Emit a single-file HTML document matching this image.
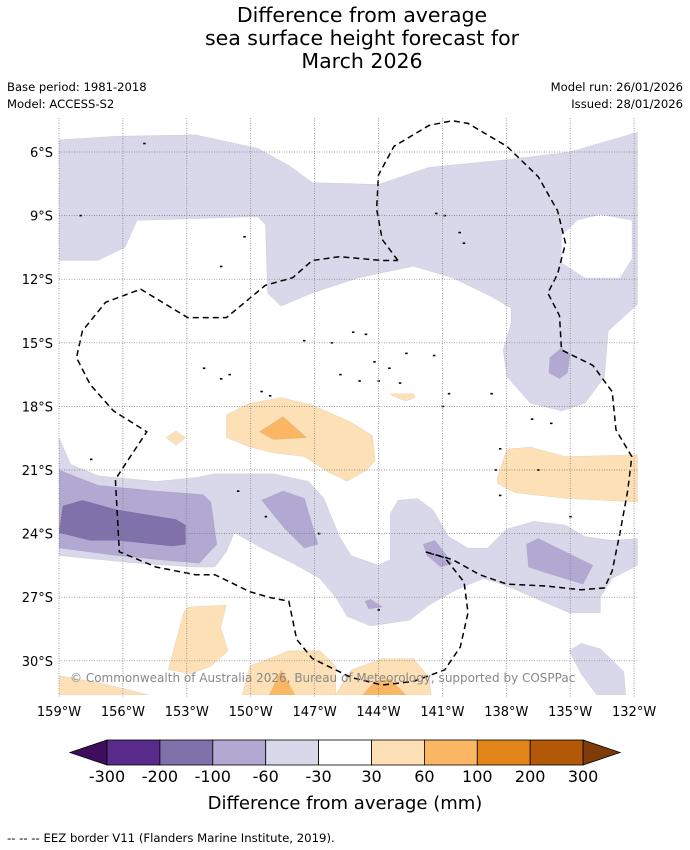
<!DOCTYPE html>
<html><head><meta charset="utf-8"><style>
body{margin:0;background:#fff;width:690px;height:850px;overflow:hidden;font-family:"Liberation Sans","DejaVu Sans",sans-serif}
svg{display:block}
</style></head><body>
<svg id="chart" width="690" height="850" viewBox="0 0 690 850" xmlns="http://www.w3.org/2000/svg" font-family="DejaVu Sans, Liberation Sans, sans-serif">
<text x="362" y="22" font-size="20.5" text-anchor="middle">Difference from average</text>
<text x="362" y="45" font-size="20.5" text-anchor="middle">sea surface height forecast for</text>
<text x="362" y="68" font-size="20.5" text-anchor="middle">March 2026</text>
<text x="7" y="91" font-size="11.6">Base period: 1981-2018</text>
<text x="7" y="108" font-size="11.6">Model: ACCESS-S2</text>
<text x="683" y="91" font-size="11.6" text-anchor="end">Model run: 26/01/2026</text>
<text x="683" y="108" font-size="11.6" text-anchor="end">Issued: 28/01/2026</text>
<defs><clipPath id="mc"><rect x="59" y="118" width="579" height="579"/></clipPath></defs>
<g id="map" clip-path="url(#mc)"></g>
<g id="grid"></g>
<text x="70" y="682" font-size="12" fill="#888">© Commonwealth of Australia 2026, Bureau of Meteorology, supported by COSPPac</text>
<g id="cbar"></g>
<text x="345" y="809" font-size="18" text-anchor="middle">Difference from average (mm)</text>
<text x="7" y="842" font-size="11.7">--  --  -- EEZ border V11 (Flanders Marine Institute, 2019).</text>
</svg>
<script>
const lonTicks=[-159,-156,-153,-150,-147,-144,-141,-138,-135,-132];
const latTicks=[6,9,12,15,18,21,24,27,30];
const cbarBounds=[-300,-200,-100,-60,-30,30,60,100,200,300];
const cbarColors=["#582a8a","#8071ab","#b1a9d2","#d9d8ea","#ffffff","#fde0b5","#fbb664","#e38419","#b35806"];
const cbarLow="#3f0d5c", cbarHigh="#7f3b08";
const C={lp:"#d9d8ea",mp:"#b1a9d2",dp:"#8071ab",lo:"#fde0b5",mo:"#fbb664"};
const topBand=[[-159,5.43],[-156.26,5.25],[-152.6,5.19],[-149.67,5.82],[-148.21,6.63],[-147.11,7.44],[-144,7.53],[-141.62,6.72],[-137.97,6.36],[-135.04,6],[-131.84,5.07],[-131.84,13.18],[-133.21,14.44],[-133.39,16.6],[-134.31,17.85],[-135.41,18.21],[-136.87,17.85],[-137.97,16.6],[-138.15,15.34],[-137.78,14.08],[-137.78,13.36],[-138.7,12.82],[-140.53,11.93],[-142.36,11.39],[-144.92,11.93],[-147.11,12.65],[-148.57,13.27],[-149.21,12.65],[-149.31,9.41],[-149.67,9.05],[-155.34,9.23],[-155.89,10.49],[-157.17,11.12],[-159,11.12]];
const topHole=[[-135.4,9.95],[-134.67,9.23],[-133.58,8.96],[-132.11,9.23],[-132.11,11.03],[-132.66,11.93],[-134.31,11.93],[-135.4,11.21]];
const medNE=[[-135.96,15.7],[-135.41,15.25],[-135,15.52],[-135.13,16.42],[-135.5,16.69],[-136,16.42]];
const bottomBand=[[-159,19.47],[-158.45,20.73],[-157.17,21.27],[-154.43,21.54],[-152.6,21.36],[-151.68,21.18],[-148.94,21.18],[-147.29,21.54],[-146.56,22.34],[-145.83,24.14],[-145.28,25.04],[-144,25.49],[-143.45,25.22],[-143.45,23.06],[-143.09,22.43],[-142.17,22.34],[-141.44,22.88],[-140.71,24.14],[-139.8,24.68],[-138.88,24.68],[-137.97,23.78],[-136.69,23.42],[-135.22,23.6],[-134.31,24.14],[-133.03,24.32],[-131.84,24.23],[-131.84,25.49],[-133.03,26.12],[-133.58,27.01],[-133.58,27.73],[-135.04,27.73],[-136.32,27.19],[-137.97,26.47],[-139.06,26.12],[-140.34,26.65],[-141.62,27.37],[-142.54,28.09],[-144.37,28.36],[-145.47,27.91],[-146.01,27.01],[-146.75,26.12],[-148.03,25.4],[-149.49,24.68],[-150.77,23.96],[-151.14,24.86],[-151.68,25.58],[-152.6,25.58],[-155.34,25.4],[-157.17,25.22],[-159,25.04]];
const medWest=[[-159,21],[-157.17,21.72],[-154.43,21.99],[-152.23,22.16],[-151.87,22.52],[-151.59,24.5],[-152.42,25.4],[-154.43,25.22],[-156.26,25.04],[-159,24.68]];
const darkWest=[[-158.82,22.7],[-157.9,22.43],[-156.26,22.88],[-153.51,23.33],[-153.06,23.6],[-153.06,24.5],[-153.7,24.59],[-156.26,24.32],[-157.54,24.32],[-159,23.96]];
const medCenter=[[-149.49,22.43],[-148.48,21.99],[-147.48,22.34],[-146.84,24.5],[-147.48,24.68],[-148.39,23.78]];
const medEast=[[-137.05,24.5],[-136.5,24.23],[-133.94,25.49],[-134.4,26.38],[-136.14,25.85],[-136.96,25.58]];
const medSmall=[[-141.9,24.5],[-141.35,24.32],[-140.53,25.4],[-141.08,25.58],[-141.72,25.04]];
const medTiny=[[-144.64,27.19],[-144.37,27.1],[-143.82,27.46],[-144.46,27.55]];
const lavSE=[[-135.04,29.53],[-134.49,29.17],[-133.58,29.44],[-132.48,30.52],[-132.39,31.6],[-133.76,31.6],[-134.49,30.61]];
const orCenter=[[-151.14,18.39],[-150.04,17.85],[-148.57,17.58],[-147.11,17.94],[-145.28,18.75],[-144.28,19.38],[-144.15,20.55],[-144.55,21],[-145.47,21.54],[-146.38,21.09],[-147.48,20.37],[-148.94,20.19],[-150.04,19.92],[-151.14,19.47]];
const orCenterMed=[[-149.58,19.2],[-148.48,18.48],[-147.38,19.47],[-148.94,19.56]];
const orDiamond=[[-153.97,19.47],[-153.51,19.16],[-153.06,19.47],[-153.51,19.83]];
const orSmall=[[-143.45,17.4],[-142.36,17.4],[-142.27,17.58],[-142.72,17.76],[-143.36,17.49]];
const orEast=[[-138.42,21.36],[-137.97,20.01],[-136.87,19.92],[-135.22,20.37],[-131.84,20.28],[-131.84,22.52],[-135.22,22.34],[-137.6,22.07],[-138.42,21.63]];
const orSW=[[-153.88,30.43],[-153.15,27.73],[-152.96,27.46],[-151.14,27.37],[-151.41,28.45],[-151.05,29.53],[-151.87,30.25],[-152.78,30.61]];
const orCorner=[[-159,30.7],[-156.99,31.06],[-154.8,31.6],[-159,31.6]];
const orBotC=[[-150.4,31.6],[-150.04,30.25],[-148.21,29.53],[-146.75,29.53],[-146.01,30.25],[-146.01,31.6]];
const orBotCMed=[[-149.12,31.6],[-148.57,30.43],[-147.93,31.6]];
const orBotE=[[-146.01,31.6],[-145.28,30.43],[-143.82,29.89],[-142.36,29.89],[-141.62,30.79],[-141.53,31.6]];
const orBotEMed=[[-144.73,31.6],[-144.18,30.96],[-143.45,30.87],[-142.72,31.6]];
const eez=[[-143.09,11.12],[-143.82,10.13],[-144.09,8.69],[-144,7.08],[-143.27,5.73],[-141.62,4.74],[-140.53,4.53],[-139.8,4.65],[-137.97,5.73],[-136.5,7.17],[-135.59,8.78],[-135.22,10.31],[-135.59,11.75],[-136.05,12.65],[-135.5,13.72],[-135.41,15.34],[-133.94,16.06],[-133.03,17.31],[-132.85,19.11],[-132.11,20.37],[-132.3,21.98],[-132.66,23.96],[-133.03,25.76],[-133.39,26.56],[-134.49,26.65],[-136.14,26.47],[-137.97,26.38],[-139.25,25.94],[-140.53,25.22],[-141.81,24.86],[-140.89,25.13],[-139.98,26.29],[-139.8,27.73],[-140.16,29.35],[-140.89,30.43],[-142.36,30.97],[-143.82,31.14],[-145.28,30.79],[-147.11,29.89],[-147.84,28.99],[-148.21,27.19],[-149.12,27.01],[-150.04,26.74],[-151.68,25.94],[-152.6,25.94],[-154.43,25.58],[-156.17,24.86],[-156.35,21.45],[-155.89,20.73],[-154.88,19.2],[-156.44,18.21],[-157.54,16.96],[-158.18,15.7],[-157.9,14.44],[-156.81,13.09],[-155.16,12.47],[-152.96,13.81],[-151.14,13.81],[-149.31,12.29],[-148.03,11.93],[-147.11,11.12],[-145.83,10.94],[-143.82,11.12],[-143.09,11.12]];
const islands=[[-158.0,9.0],[-155.0,5.6],[-150.3,10.0],[-151.4,11.4],[-141.3,8.9],[-140.9,9.0],[-140.2,9.8],[-140.0,10.3],[-147.5,14.9],[-146.2,15.0],[-145.2,14.5],[-144.6,14.6],[-144.2,15.9],[-143.5,16.2],[-142.7,15.5],[-141.4,15.6],[-145.8,16.5],[-144.9,16.8],[-144.0,16.8],[-143.0,16.9],[-152.2,16.2],[-151.4,16.7],[-151.0,16.5],[-149.5,17.3],[-149.1,17.5],[-140.7,17.4],[-138.7,17.4],[-141.0,18.0],[-136.8,18.6],[-135.9,18.8],[-138.3,20.0],[-138.5,21.0],[-136.5,21.0],[-138.3,22.2],[-135.0,23.2],[-157.5,20.5],[-150.6,22.0],[-149.3,23.2],[-146.8,24.0],[-144.0,27.6]];
const NS="http://www.w3.org/2000/svg";
const X=lon=>59+(lon+159)*21.3;
const Y=lat=>152+(lat-6)*21.2;
function pts(a){return a.map(p=>X(p[0]).toFixed(1)+","+Y(p[1]).toFixed(1)).join(" ");}
const map=document.getElementById("map");
function poly(a,fill,name){const e=document.createElementNS(NS,"polygon");e.setAttribute("points",pts(a));e.setAttribute("fill",fill);e.setAttribute("stroke",fill==="#ffffff"?"none":"rgba(0,0,0,0.08)");e.setAttribute("stroke-width","0.6");


map.appendChild(e);}
poly(topBand,C.lp,"region-light-purple-north");
poly(topHole,"#ffffff","region-hole-northeast");
poly(medNE,C.mp,"region-mid-purple-northeast");
poly(bottomBand,C.lp,"region-light-purple-south");
poly(medWest,C.mp,"region-mid-purple-west");
poly(darkWest,C.dp,"region-dark-purple-west");
poly(medCenter,C.mp,"region-mid-purple-center");
poly(medEast,C.mp,"region-mid-purple-east");
poly(medSmall,C.mp,"region-mid-purple-small");
poly(medTiny,C.mp,"region-mid-purple-tiny");
poly(lavSE,C.lp,"region-light-purple-southeast");
poly(orCenter,C.lo,"region-light-orange-center");
poly(orCenterMed,C.mo,"region-orange-center");
poly(orDiamond,C.lo,"region-light-orange-diamond");
poly(orSmall,C.lo,"region-light-orange-small");
poly(orEast,C.lo,"region-light-orange-east");
poly(orSW,C.lo,"region-light-orange-southwest");
poly(orCorner,C.lo,"region-light-orange-corner");
poly(orBotC,C.lo,"region-light-orange-south-center");
poly(orBotCMed,C.mo,"region-orange-south-center");
poly(orBotE,C.lo,"region-light-orange-south-east");
poly(orBotEMed,C.mo,"region-orange-south-east");
islands.forEach(p=>{const e=document.createElementNS(NS,"rect");e.setAttribute("x",X(p[0])-1);e.setAttribute("y",Y(p[1])-0.8);e.setAttribute("width","2.5");e.setAttribute("height","1.6");e.setAttribute("fill","#000");


map.appendChild(e);});
const el=document.createElementNS(NS,"polyline");el.setAttribute("points",pts(eez));el.setAttribute("fill","none");el.setAttribute("stroke","#000");el.setAttribute("stroke-width","1.5");el.setAttribute("stroke-dasharray","6,4");


map.appendChild(el);
const grid=document.getElementById("grid");
lonTicks.forEach(v=>{const x=X(v);const l=document.createElementNS(NS,"line");l.setAttribute("x1",x);l.setAttribute("x2",x);l.setAttribute("y1",118);l.setAttribute("y2",697);l.setAttribute("stroke","#777");l.setAttribute("stroke-width","0.7");l.setAttribute("stroke-dasharray","1,1.5");


grid.appendChild(l);
const t=document.createElementNS(NS,"text");t.setAttribute("x",x);t.setAttribute("y",716);t.setAttribute("font-size","13");t.setAttribute("text-anchor","middle");t.textContent=(-v)+"°W";


grid.appendChild(t);});
latTicks.forEach(v=>{const y=Y(v);const l=document.createElementNS(NS,"line");l.setAttribute("x1",59);l.setAttribute("x2",638);l.setAttribute("y1",y);l.setAttribute("y2",y);l.setAttribute("stroke","#777");l.setAttribute("stroke-width","0.7");l.setAttribute("stroke-dasharray","1,1.5");


grid.appendChild(l);
const t=document.createElementNS(NS,"text");t.setAttribute("x",53);t.setAttribute("y",y+5);t.setAttribute("font-size","13");t.setAttribute("text-anchor","end");t.textContent=v+"°S";


grid.appendChild(t);});
const cb=document.getElementById("cbar");
const cx0=107,cw=52.9,cy=740,ch=25;
function add(tag,attrs,name){const e=document.createElementNS(NS,tag);for(const k in attrs)e.setAttribute(k,attrs[k]);


cb.appendChild(e);return e;}
add("polygon",{points:`${cx0},${cy} 70,${cy+ch/2} ${cx0},${cy+ch}`,fill:cbarLow,stroke:"#000","stroke-width":"0.8"},"colorbar-low-extend");
cbarColors.forEach((c,i)=>add("rect",{x:cx0+i*cw,y:cy,width:cw,height:ch,fill:c,stroke:"#000","stroke-width":"0.8"},"colorbar-swatch"));
const cx1=cx0+cbarColors.length*cw;
add("polygon",{points:`${cx1},${cy} 620,${cy+ch/2} ${cx1},${cy+ch}`,fill:cbarHigh,stroke:"#000","stroke-width":"0.8"},"colorbar-high-extend");
cbarBounds.forEach((b,i)=>{const t=add("text",{x:cx0+i*cw,y:782,"font-size":"16","text-anchor":"middle"},"colorbar-tick-label");t.textContent=b;});
</script>
</body></html>
